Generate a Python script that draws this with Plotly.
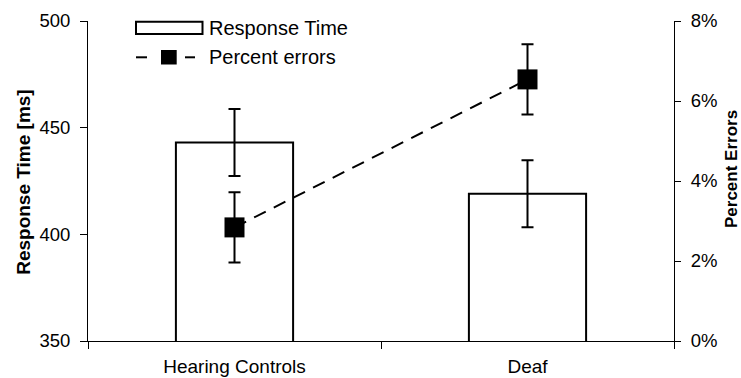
import plotly.graph_objects as go

# ---- data ----
categories = ["Hearing Controls", "Deaf"]
response_time = [443, 419]
response_time_err = [15.7, 15.7]
percent_errors = [0.0284, 0.0654]
percent_errors_err = [0.0088, 0.0088]

# ---- layout geometry (pixels) ----
W, H = 741, 378
L, R, T, B = 88, 67, 21, 37
PW = W - L - R
PH = H - T - B


def px(x):
    return (x - L) / PW


def py(y):
    return (H - B - y) / PH


FONT = "Arial, Liberation Sans, sans-serif"

fig = go.Figure()

fig.add_trace(go.Bar(
    x=categories, y=response_time,
    width=0.4,
    marker=dict(color="white", line=dict(color="black", width=2)),
    error_y=dict(type="data", array=response_time_err, color="black",
                 thickness=2, width=6),
    name="Response Time",
    yaxis="y",
))

fig.add_trace(go.Scatter(
    x=categories, y=percent_errors,
    mode="lines+markers",
    line=dict(color="black", width=2, dash="13px,9px"),
    marker=dict(symbol="square", size=20, color="black"),
    error_y=dict(type="data", array=percent_errors_err, color="black",
                 thickness=2, width=6),
    name="Percent errors",
    yaxis="y2",
))

fig.update_layout(
    width=W, height=H,
    margin=dict(l=L, r=R, t=T, b=B, pad=0, autoexpand=False),
    paper_bgcolor="white", plot_bgcolor="white",
    showlegend=False,
    font=dict(family=FONT, color="black"),
    xaxis=dict(
        type="category", range=[-0.5, 1.5], automargin=False,
        tickson="boundaries", ticks="outside", ticklen=7, tickcolor="black",
        showline=True, linecolor="black", linewidth=1,
        showgrid=False, zeroline=False,
        tickfont=dict(size=19, family=FONT, color="black"),
        ticklabelstandoff=8,
    ),
    yaxis=dict(
        range=[350, 500], dtick=50, tick0=350, automargin=False,
        ticks="outside", ticklen=7, tickcolor="black",
        showline=True, linecolor="black", linewidth=1,
        showgrid=False, zeroline=False,
        tickfont=dict(size=18.5, family=FONT, color="black"),
        ticklabelstandoff=6,
    ),
    yaxis2=dict(
        overlaying="y", side="right", automargin=False,
        range=[0, 0.08], dtick=0.02, tick0=0, tickformat=".0%",
        ticks="outside", ticklen=6, tickcolor="black",
        showline=True, linecolor="black", linewidth=1,
        showgrid=False, zeroline=False,
        tickfont=dict(size=18.5, family=FONT, color="black"),
        ticklabelstandoff=6,
    ),
)

annotations = [
    dict(text="<b>Response Time [ms]</b>", textangle=-90,
         x=px(22.8), y=py(182), xref="paper", yref="paper",
         xanchor="center", yanchor="middle", showarrow=False,
         font=dict(size=19, family=FONT, color="black")),
    dict(text="<b>Percent Errors</b>", textangle=-90,
         x=px(720), y=py(169.5), xref="paper", yref="paper",
         xanchor="left", yanchor="middle", showarrow=False,
         font=dict(size=17, family=FONT, color="black")),
    dict(text="Response Time", x=px(207), y=py(28), xref="paper", yref="paper",
         xanchor="left", yanchor="middle", showarrow=False,
         font=dict(size=20, family=FONT, color="black")),
    dict(text="Percent errors", x=px(207), y=py(57), xref="paper", yref="paper",
         xanchor="left", yanchor="middle", showarrow=False,
         font=dict(size=20, family=FONT, color="black")),
]

shapes = [
    dict(type="rect", xref="paper", yref="paper",
         x0=px(136), x1=px(202.5), y0=py(34), y1=py(21.7),
         line=dict(color="black", width=2), fillcolor="white"),
    dict(type="line", xref="paper", yref="paper",
         x0=px(136), x1=px(147), y0=py(57.3), y1=py(57.3),
         line=dict(color="black", width=2)),
    dict(type="line", xref="paper", yref="paper",
         x0=px(185), x1=px(195), y0=py(57.3), y1=py(57.3),
         line=dict(color="black", width=2)),
    dict(type="rect", xref="paper", yref="paper",
         x0=px(161), x1=px(176.7), y0=py(64.5), y1=py(50),
         line=dict(color="black", width=0), fillcolor="black"),
]

fig.update_layout(annotations=annotations, shapes=shapes)

fig.write_html(
    "out.html",
    config={"displayModeBar": False},
    post_script="document.body.style.margin='0';document.body.style.overflow='hidden';",
)
